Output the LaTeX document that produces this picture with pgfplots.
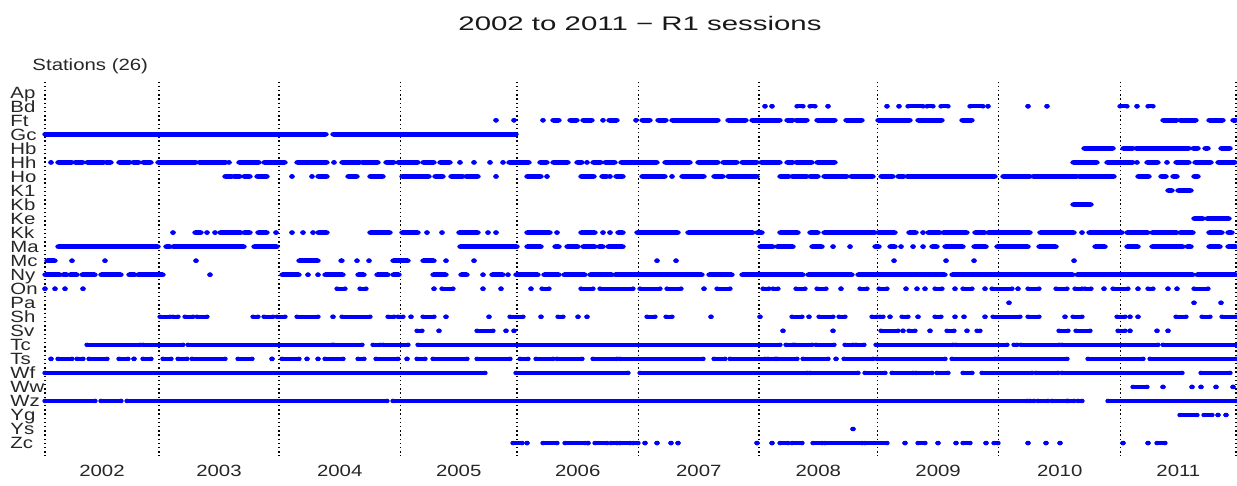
\documentclass[border=0pt]{standalone}
\usepackage{fontspec}
\setmainfont{Liberation Sans}
\usepackage{pgfplots}
\usepackage{pgfplotstable}
\pgfplotsset{compat=1.18}
% s = first session of a run, e = last session of a run, r = station row
\pgfplotstableread{
s e r
765 765 1
772 772 1
797 803 1
810 815 1
828 828 1
887 887 1
899 899 1
908 923 1
927 933 1
941 948 1
970 983 1
988 988 1
1028 1028 1
1047 1047 1
1120 1127 1
1137 1137 1
1148 1153 1
496 496 2
514 514 2
543 543 2
553 559 2
570 577 2
583 592 2
603 603 2
609 617 2
636 636 2
642 650 2
658 666 2
672 718 2
728 746 2
752 780 2
787 793 2
796 807 2
817 835 2
846 862 2
878 910 2
918 942 2
962 972 2
1163 1177 2
1180 1196 2
1209 1223 2
1233 1236 2
45 326 3
333 516 3
1084 1113 4
1123 1133 4
1136 1189 4
1193 1198 4
1205 1208 4
1221 1230 4
51 51 5
58 72 5
75 83 5
87 104 5
106 111 5
119 130 5
133 139 5
143 151 5
158 196 5
199 226 5
229 229 5
239 259 5
264 285 5
297 327 5
334 334 5
342 360 5
362 378 5
386 394 5
398 418 5
423 434 5
440 450 5
460 460 5
474 474 5
490 490 5
503 503 5
509 529 5
540 547 5
553 568 5
577 582 5
587 587 5
593 601 5
605 615 5
621 657 5
665 690 5
698 718 5
723 737 5
742 757 5
761 780 5
787 793 5
796 812 5
817 835 5
1073 1097 5
1107 1133 5
1137 1137 5
1147 1158 5
1167 1167 5
1176 1189 5
1195 1211 5
1218 1235 5
225 232 6
234 240 6
244 250 6
257 267 6
292 292 6
312 312 6
318 327 6
348 357 6
370 383 6
402 429 6
435 443 6
451 463 6
466 478 6
496 496 6
527 541 6
547 547 6
581 594 6
602 607 6
610 610 6
616 623 6
642 665 6
672 672 6
682 704 6
714 723 6
728 757 6
780 789 6
792 807 6
810 818 6
824 847 6
851 873 6
881 893 6
898 904 6
907 995 6
1003 1030 6
1033 1077 6
1079 1114 6
1138 1149 6
1161 1166 6
1173 1177 6
1194 1198 6
1168 1172 7
1178 1191 7
1073 1091 8
1194 1203 9
1207 1229 9
173 173 10
195 201 10
207 207 10
215 215 10
220 241 10
244 250 10
258 267 10
276 276 10
292 292 10
303 303 10
313 313 10
318 327 10
370 390 10
402 418 10
427 427 10
442 442 10
459 478 10
488 488 10
496 496 10
527 550 10
557 557 10
581 595 10
603 603 10
610 610 10
618 623 10
637 678 10
688 753 10
757 762 10
780 798 10
810 818 10
824 875 10
878 895 10
909 916 10
923 923 10
928 940 10
943 967 10
975 985 10
988 1030 10
1040 1074 10
1082 1082 10
1089 1122 10
1127 1148 10
1152 1177 10
1180 1193 10
1209 1222 10
1228 1232 10
58 158 11
166 170 11
173 244 11
254 277 11
460 517 11
527 541 11
555 559 11
567 578 11
583 595 11
599 603 11
608 623 11
760 773 11
777 793 11
812 822 11
833 833 11
850 850 11
875 879 11
890 895 11
901 901 11
913 913 11
923 923 11
932 937 11
945 963 11
974 986 11
997 1028 11
1039 1056 11
1095 1105 11
1127 1138 11
1152 1183 11
1187 1191 11
1209 1220 11
1228 1236 11
47 55 12
72 72 12
105 105 12
196 196 12
299 318 12
341 342 12
357 357 12
369 369 12
393 408 12
423 434 12
446 446 12
474 474 12
657 657 12
676 676 12
894 894 12
946 946 12
974 974 12
1074 1074 12
45 60 13
63 67 13
70 77 13
82 95 13
101 121 13
129 135 13
138 163 13
210 210 13
282 299 13
308 308 13
318 318 13
325 343 13
358 364 13
377 388 13
393 399 13
433 446 13
461 467 13
483 483 13
492 503 13
508 508 13
516 538 13
544 559 13
564 585 13
590 612 13
615 702 13
709 732 13
742 803 13
808 852 13
858 945 13
952 1073 13
1077 1193 13
1197 1236 13
45 45 14
55 55 14
65 65 14
83 83 14
337 345 14
360 366 14
434 434 14
442 453 14
483 483 14
501 501 14
531 531 14
542 549 14
581 593 14
600 633 14
640 660 14
667 681 14
704 704 14
717 730 14
763 769 14
773 778 14
796 805 14
817 826 14
841 841 14
860 867 14
879 887 14
906 906 14
917 917 14
925 925 14
935 942 14
955 955 14
963 972 14
985 985 14
992 1012 14
1018 1018 14
1028 1039 14
1056 1067 14
1075 1082 14
1085 1091 14
1104 1104 14
1113 1128 14
1138 1138 14
1148 1153 14
1168 1168 14
1177 1177 14
1194 1208 14
1009 1009 15
1194 1194 15
1221 1221 15
160 170 16
173 178 16
185 193 16
197 207 16
253 258 16
264 273 16
277 285 16
297 318 16
333 333 16
342 370 16
388 394 16
398 403 16
411 411 16
423 434 16
446 446 16
489 489 16
510 523 16
541 541 16
558 563 16
578 578 16
587 587 16
647 655 16
666 672 16
711 711 16
760 760 16
792 802 16
809 809 16
819 833 16
839 845 16
872 877 16
880 883 16
890 890 16
902 908 16
918 918 16
935 941 16
955 955 16
964 964 16
985 985 16
993 1020 16
1028 1039 16
1065 1065 16
1073 1082 16
1117 1125 16
1130 1130 16
1138 1138 16
1176 1186 16
1202 1210 16
1222 1236 16
417 422 17
439 439 17
477 493 17
506 506 17
514 514 17
783 783 17
833 833 17
881 898 17
903 903 17
909 915 17
930 930 17
947 954 17
967 967 17
977 980 17
1059 1068 17
1076 1090 17
1118 1125 17
1130 1130 17
1157 1157 17
1168 1168 17
87 140 18
143 183 18
188 332 18
334 362 18
373 380 18
383 408 18
418 780 18
786 793 18
795 812 18
816 834 18
845 853 18
856 864 18
876 953 18
956 1007 18
1014 1017 18
1021 1059 18
1062 1158 18
1163 1236 18
51 51 19
58 72 19
77 83 19
89 107 19
119 128 19
134 134 19
143 151 19
163 171 19
178 187 19
192 225 19
238 252 19
272 272 19
282 299 19
307 307 19
318 318 19
325 343 19
358 364 19
376 398 19
407 407 19
417 425 19
433 467 19
477 510 19
520 528 19
536 553 19
557 582 19
593 617 19
620 703 19
714 725 19
730 765 19
768 775 19
777 797 19
803 828 19
836 836 19
844 873 19
877 945 19
952 995 19
998 1067 19
1088 1143 19
1150 1236 19
45 485 20
516 628 20
640 807 20
810 858 20
865 885 20
892 913 20
916 932 20
937 948 20
963 972 20
982 1032 20
1036 1058 20
1062 1182 20
1201 1230 20
1133 1147 21
1163 1163 21
1192 1192 21
1201 1201 21
1216 1216 21
1233 1233 21
45 95 22
101 121 22
127 387 22
393 1027 22
1030 1034 22
1038 1048 22
1052 1067 22
1068 1074 22
1078 1082 22
1108 1236 22
1180 1197 23
1204 1212 23
1218 1218 23
1226 1226 23
853 853 24
513 522 25
527 527 25
543 557 25
565 585 25
588 588 25
595 607 25
611 617 25
620 630 25
633 638 25
645 645 25
657 657 25
671 671 25
678 678 25
757 757 25
772 772 25
780 788 25
792 802 25
813 822 25
825 862 25
865 887 25
905 905 25
918 925 25
938 938 25
956 956 25
963 970 25
986 986 25
994 998 25
1028 1028 25
1046 1046 25
1060 1060 25
1123 1123 25
1148 1148 25
1157 1165 25
}\sessions

\begin{document}
\begin{tikzpicture}
\useasboundingbox (0,0) rectangle (618.5bp,243bp);
\begin{axis}[
  at={(22.5bp,14.95bp)}, anchor=south west,
  scale only axis, width=595.5bp, height=187.25bp,
  xmin=45, xmax=1236, ymin=-0.76, ymax=25.93, y dir=reverse,
  axis line style={draw=none},
  major tick length=0pt,
  ytick={0,...,25},
  yticklabels={Ap,Bd,Ft,Gc,Hb,Hh,Ho,K1,Kb,Ke,Kk,Ma,Mc,Ny,On,Pa,Sh,Sv,Tc,Ts,Wf,Ww,Wz,Yg,Ys,Zc},
  yticklabel style={anchor=base west, xshift=-17.5bp, yshift=-2.92bp, inner sep=0pt,
    font=\fontsize{8.15bp}{9bp}\selectfont, xscale=1.25, text=black!85},
  xtick={102,219,339.75,458.75,577.75,698.75,818.25,938.1,1059.7,1178.35},
  xticklabels={2002,2003,2004,2005,2006,2007,2008,2009,2010,2011},
  xticklabel style={anchor=base, yshift=-9.95bp, inner sep=0pt,
    font=\fontsize{8.15bp}{9bp}\selectfont, xscale=1.25, text=black!85},
  extra x ticks={45,159,279,400.5,517,638.5,759,877.5,998.7,1120.7,1236},
  extra x tick labels={},
  extra x tick style={grid=major, major grid style={black, line width=0.75bp, dash pattern=on 0.75bp off 1.35bp}},
  clip=false,
]
\addplot[only marks, mark=*, mark size=0.9bp, mark options={draw=blue, fill=blue, line width=0.4bp, xscale=1.25},
  error bars/.cd, x dir=plus, x explicit, error mark=none,
  error bar style={line width=2.2bp, blue}]
  table[x=s, y=r, x error expr=\thisrow{e}-\thisrow{s}] {\sessions};
\addplot[only marks, mark=*, mark size=0.9bp, mark options={draw=blue, fill=blue, line width=0.4bp, xscale=1.25}]
  table[x=e, y=r] {\sessions};
\end{axis}
\node[anchor=base west, inner sep=0pt, font=\fontsize{8.15bp}{9bp}\selectfont, xscale=1.25, text=black!85]
  at (16bp,207.5bp) {Stations (26)};
\node[anchor=base, inner sep=0pt, font=\fontsize{9.8bp}{11bp}\selectfont, xscale=1.5, text=black!90]
  at (320bp,227.65bp) {2002 to 2011 − R1 sessions};
\end{tikzpicture}
\end{document}
